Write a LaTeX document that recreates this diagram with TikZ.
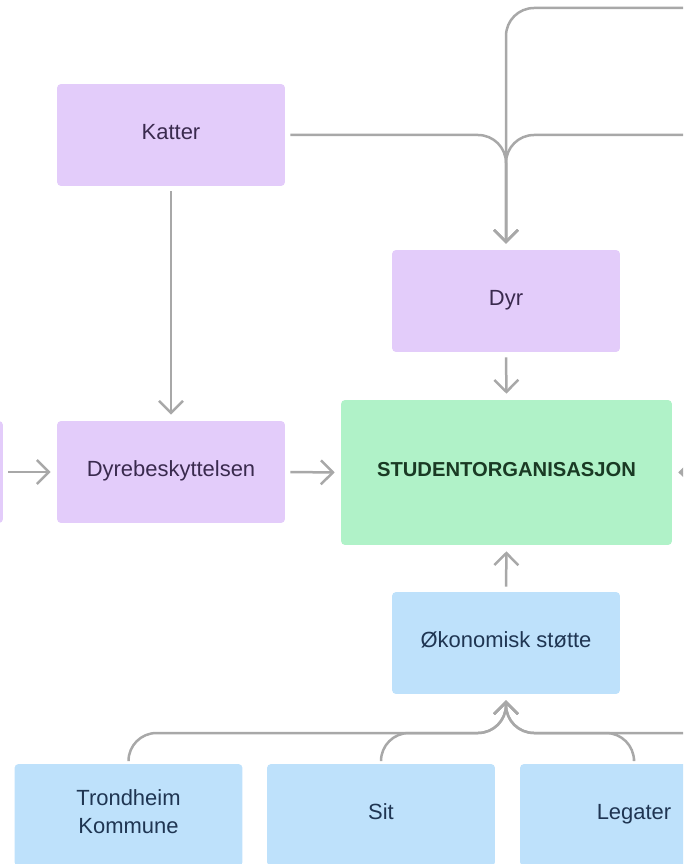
\documentclass[tikz,border=0pt]{standalone}
\usepackage{fontspec}
\setmainfont{Liberation Sans}
\usetikzlibrary{arrows.meta}
\definecolor{lilla}{HTML}{E3CCFA}
\definecolor{gronn}{HTML}{B0F2C8}
\definecolor{blaa}{HTML}{BEE1FB}
\definecolor{linje}{HTML}{A8A8A8}
\definecolor{lillatekst}{HTML}{3A2A4E}
\definecolor{gronntekst}{HTML}{1A3A24}
\definecolor{blaatekst}{HTML}{1F3552}
\newcommand{\boksstrut}{\rule[-0.3em]{0pt}{1em}}
\begin{document}
\begin{tikzpicture}[x=0.02cm,y=-0.02cm,>={Straight Barb[length=0.24cm,width=0.48cm]},
  boks/.style={rectangle,rounded corners=0.08cm,minimum width=4.56cm,minimum height=2.04cm,
    font=\fontsize{12.5pt}{16pt}\selectfont,align=center,inner sep=0pt,
    execute at begin node=\boksstrut,execute at end node=\boksstrut},
  dyrboks/.style={boks,fill=lilla,text=lillatekst},
  stotteboks/.style={boks,fill=blaa,text=blaatekst},
  kant/.style={draw=linje,line width=0.05cm,rounded corners=0.56cm,shorten <=0.1cm,shorten >=0.12cm}]
  \useasboundingbox (0,0) rectangle (683,864);
  \clip (0,0) rectangle (683,864);
  \node[dyrboks] (katter) at (171,135) {Katter};
  \node[dyrboks] (dyr) at (506,301) {Dyr};
  \node[dyrboks] (dyrebesk) at (171,472) {Dyrebeskyttelsen};
  \node[dyrboks] (venstre) at (-111,472) {};
  \node[boks,fill=gronn,text=gronntekst,minimum width=6.62cm,minimum height=2.9cm,
    font=\fontsize{11.5pt}{14pt}\selectfont\bfseries] (student) at (506.5,472.5) {STUDENTORGANISASJON};
  \node[stotteboks] (oko) at (506,643) {Økonomisk støtte};
  \node[stotteboks] (trond) at (128.5,815) {Trondheim\\Kommune};
  \node[stotteboks] (sit) at (381,815) {Sit};
  \node[stotteboks] (legater) at (634,815) {Legater};
  \coordinate (topp) at (700,8);
  \coordinate (hoyre) at (700,135);
  \coordinate (hoyre2) at (700,472);
  \coordinate (samle) at (506,733);
  \coordinate (hoyre3) at (700,733);
  \draw[kant,->] (katter.east) -| (dyr.north);
  \draw[kant,->] (hoyre) -| (dyr.north);
  \draw[kant,->] (topp) -| (dyr.north);
  \draw[kant,->] (katter.south) -- (dyrebesk.north);
  \draw[kant,->] (venstre.east) -- (dyrebesk.west);
  \draw[kant,->] (dyrebesk.east) -- (student.west);
  \draw[kant,->] (dyr.south) -- (student.north);
  \draw[kant,->] (hoyre2) -- (student.east);
  \draw[kant,->] (oko.north) -- (student.south);
  \draw[kant,->] (trond.north) |- (samle) -- (oko.south);
  \draw[kant,->] (sit.north) |- (samle) -- (oko.south);
  \draw[kant,->] (legater.north) |- (samle) -- (oko.south);
  \draw[kant,->] (hoyre3) -- (samle) -- (oko.south);
\end{tikzpicture}
\end{document}
